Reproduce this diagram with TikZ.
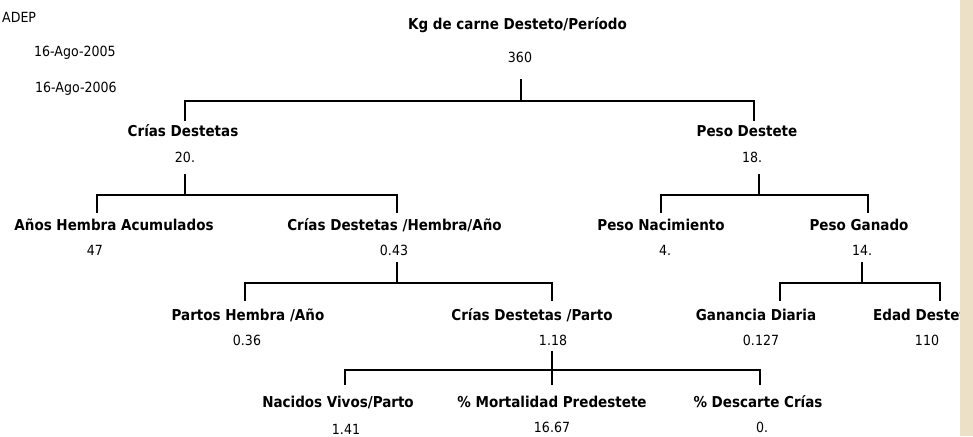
\documentclass[tikz,border=0pt]{standalone}
\usepackage{fontspec}
\newfontfamily\dvfont{DejaVu Sans Condensed}
\definecolor{beige}{RGB}{236,224,199}
\tikzset{
  hd/.style={inner sep=0pt, anchor=center, font=\dvfont\bfseries\fontsize{15}{15}\selectfont},
  val/.style={inner sep=0pt, anchor=center, font=\dvfont\fontsize{14}{14}\selectfont},
  lbl/.style={inner sep=0pt, anchor=west, font=\dvfont\fontsize{14}{14}\selectfont},
  conn/.style={line width=2.5pt, line cap=rect, line join=miter}
}
\begin{document}
\begin{tikzpicture}[x=1pt,y=-1pt]
\fill[white] (0,0) rectangle (973,436);
\useasboundingbox (0,0) rectangle (973,436);
% header labels
\node[lbl] (adep) at (2,17) {ADEP};
\node[lbl] (d1) at (34,53) {16-Ago-2005};
\node[lbl] (d2) at (35,89) {16-Ago-2006};
% nodes
\node[hd] (n0) at (517.5,25) {Kg de carne Desteto/Período};
\node[val] (v0) at (520,57) {360};
\node[hd] (n1) at (183,131) {Crías Destetas};
\node[val] (v1) at (185,157) {20.};
\node[hd] (n2) at (747,131) {Peso Destete};
\node[val] (v2) at (752,157) {18.};
\node[hd] (n3) at (114,225) {Años Hembra Acumulados};
\node[val] (v3) at (95,250) {47};
\node[hd] (n4) at (394.5,225) {Crías Destetas /Hembra/Año};
\node[val] (v4) at (394,250) {0.43};
\node[hd] (n5) at (661,225) {Peso Nacimiento};
\node[val] (v5) at (665,250) {4.};
\node[hd] (n6) at (859,225) {Peso Ganado};
\node[val] (v6) at (862,250) {14.};
\node[hd] (n7) at (248,315) {Partos Hembra /Año};
\node[val] (v7) at (247,340) {0.36};
\node[hd] (n8) at (532,315) {Crías Destetas /Parto};
\node[val] (v8) at (553,340) {1.18};
\node[hd] (n9) at (756,315) {Ganancia Diaria};
\node[val] (v9) at (761,340) {0.127};
\node[hd, anchor=west] (n10) at (873,315) {Edad Destete};
\node[val] (v10) at (927,340) {110};
\node[hd] (n11) at (338,402) {Nacidos Vivos/Parto};
\node[val] (v11) at (346,429) {1.41};
\node[hd] (n12) at (552,402) {\% Mortalidad Predestete};
\node[val] (v12) at (552,427) {16.67};
\node[hd] (n13) at (758,402) {\% Descarte Crías};
\node[val] (v13) at (762,427) {0.};
% connector coordinates
\coordinate (s0) at (521,80);  \coordinate (b0) at (521,101);
\coordinate (c1) at (185,120); \coordinate (c2) at (754,120);
\coordinate (s1) at (185,175); \coordinate (b1) at (185,195);
\coordinate (c3) at (97,212);  \coordinate (c4) at (397,212);
\coordinate (s2) at (759,175); \coordinate (b2) at (759,195);
\coordinate (c5) at (661,212); \coordinate (c6) at (868,212);
\coordinate (s4) at (397,263); \coordinate (b4) at (397,283);
\coordinate (c7) at (245,300); \coordinate (c8) at (552,300);
\coordinate (s6) at (862,263); \coordinate (b6) at (862,283);
\coordinate (c9) at (780,300); \coordinate (c10) at (940,300);
\coordinate (s8) at (552,352); \coordinate (b8) at (552,370);
\coordinate (c11) at (345,384); \coordinate (c12) at (552,384); \coordinate (c13) at (760,384);
% connectors
\draw[conn] (s0) -- (b0);
\draw[conn] (c1) |- (b0) -| (c2);
\draw[conn] (s1) -- (b1);
\draw[conn] (c3) |- (b1) -| (c4);
\draw[conn] (s2) -- (b2);
\draw[conn] (c5) |- (b2) -| (c6);
\draw[conn] (s4) -- (b4);
\draw[conn] (c7) |- (b4) -| (c8);
\draw[conn] (s6) -- (b6);
\draw[conn] (c9) |- (b6) -| (c10);
\draw[conn] (s8) -- (c12);
\draw[conn] (c11) |- (b8) -| (c13);
% right strip
\fill[beige] (960,0) rectangle (973,436);
\end{tikzpicture}
\end{document}
